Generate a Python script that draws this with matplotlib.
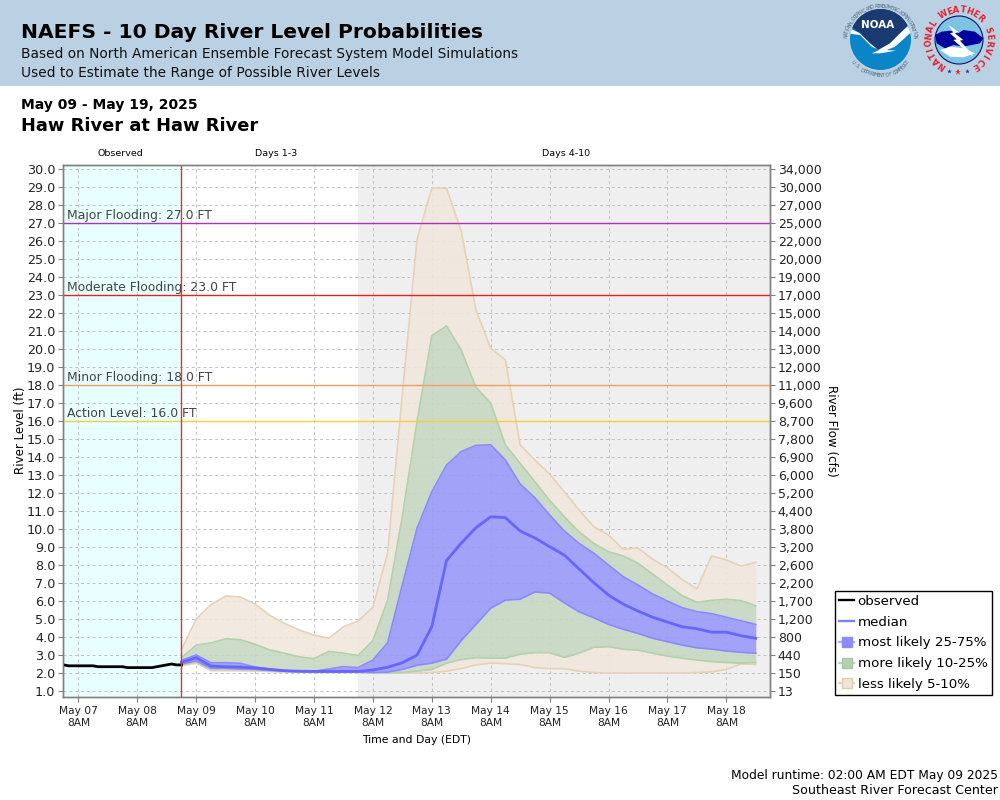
#!/usr/bin/env python3
"""
NAEFS 10 day river level probabilities, Haw River at Haw River.
"""

import numpy as np
import pandas as pd
import matplotlib
matplotlib.use("Agg")
import matplotlib.pyplot as plt
from matplotlib.lines import Line2D
from matplotlib.patches import Circle, Polygon, Rectangle


# observed stage, 2 hourly from May 07 02:00
observed = [2.45, 2.40, 2.40, 2.40, 2.40, 2.40, 2.40, 2.35, 2.35, 2.35, 2.35, 2.35, 2.35,
            2.30, 2.30, 2.30, 2.30, 2.30, 2.30, 2.35, 2.40, 2.45, 2.50, 2.45, 2.45]

# forecast percentiles, 6 hourly from May 09 02:00
q95 = [3.30, 5.00, 5.80, 6.28, 6.22, 5.83, 5.20, 4.75, 4.39, 4.11,
       3.93, 4.57, 4.89, 5.65, 8.67, 17.5, 26.1, 28.94, 28.93, 26.55,
       22.17, 20.04, 19.39, 14.67, 13.83, 13.05, 12.07, 11.06, 10.13, 9.67,
       8.87, 8.94, 8.32, 7.83, 7.20, 6.67, 8.50, 8.28, 7.94, 8.15]
q90 = [2.85, 3.55, 3.67, 3.90, 3.85, 3.60, 3.28, 3.10, 2.90, 2.80,
       3.20, 3.10, 2.97, 3.80, 6.05, 10.7, 16.0, 20.74, 21.28, 19.94,
       17.87, 17.00, 14.67, 13.65, 12.63, 11.60, 10.68, 9.85, 9.20, 8.74,
       8.50, 8.10, 7.50, 6.89, 6.30, 5.93, 6.04, 6.10, 6.02, 5.74]
q75 = [2.70, 3.00, 2.57, 2.57, 2.54, 2.33, 2.22, 2.13, 2.10, 2.10,
       2.22, 2.35, 2.30, 2.72, 3.68, 6.90, 10.05, 12.07, 13.55, 14.30,
       14.65, 14.68, 13.83, 12.50, 11.74, 10.78, 9.89, 9.20, 8.66, 8.00,
       7.35, 6.89, 6.39, 6.00, 5.63, 5.41, 5.30, 5.10, 4.90, 4.70]
median = [2.60, 2.85, 2.39, 2.35, 2.33, 2.28, 2.20, 2.13, 2.10, 2.09,
          2.09, 2.09, 2.09, 2.17, 2.32, 2.57, 3.00, 4.57, 8.25, 9.22,
          10.07, 10.68, 10.63, 9.89, 9.50, 9.02, 8.55, 7.78, 7.02, 6.33,
          5.83, 5.44, 5.10, 4.83, 4.57, 4.46, 4.27, 4.27, 4.07, 3.93]
q25 = [2.50, 2.67, 2.27, 2.27, 2.22, 2.20, 2.15, 2.10, 2.08, 2.06,
       2.06, 2.06, 2.05, 2.03, 2.05, 2.20, 2.43, 2.55, 2.77, 3.80,
       4.70, 5.60, 6.05, 6.10, 6.50, 6.44, 5.90, 5.40, 5.07, 4.70,
       4.43, 4.20, 3.93, 3.74, 3.55, 3.40, 3.33, 3.22, 3.15, 3.10]
q10 = [2.45, 2.62, 2.20, 2.20, 2.20, 2.18, 2.12, 2.08, 2.05, 2.05,
       2.05, 2.05, 2.05, 2.02, 2.02, 2.03, 2.10, 2.20, 2.55, 2.75,
       2.85, 2.83, 2.83, 3.05, 3.13, 3.13, 2.87, 3.10, 3.43, 3.46,
       3.32, 3.27, 3.10, 2.94, 2.82, 2.72, 2.63, 2.58, 2.55, 2.58]
q05 = [2.40, 2.55, 2.13, 2.13, 2.12, 2.10, 2.08, 2.05, 2.04, 2.03,
       2.03, 2.03, 2.03, 2.00, 2.00, 2.00, 2.00, 2.03, 2.10, 2.25,
       2.45, 2.55, 2.52, 2.47, 2.30, 2.24, 2.24, 2.10, 2.03, 2.00,
       2.00, 2.00, 2.00, 2.00, 2.00, 2.03, 2.06, 2.20, 2.50, 2.48]

stage_ticks = [float(v) for v in range(1, 31)]
flow_labels = ["13", "150", "440", "800", "1,200", "1,700", "2,200", "2,600", "3,200", "3,800",
               "4,400", "5,200", "6,000", "6,900", "7,800", "8,700", "9,600", "11,000", "12,000",
               "13,000", "14,000", "15,000", "17,000", "19,000", "20,000", "22,000", "25,000",
               "27,000", "30,000", "34,000"]
tick_days = ["May 07", "May 08", "May 09", "May 10", "May 11", "May 12",
             "May 13", "May 14", "May 15", "May 16", "May 17", "May 18"]

flood_levels = [27.0, 23.0, 18.0, 16.0]
flood_names = ["Major Flooding: 27.0 FT", "Moderate Flooding: 23.0 FT",
               "Minor Flooding: 18.0 FT", "Action Level: 16.0 FT"]
flood_colors = ["#b030b8", "#e82020", "#f0a05c", "#f2d038"]

BLUE_FILL = "#9898fa"
GREEN_FILL = "#c6d8c2"
TAN_FILL = "#f1e8dc"
BLUE_EDGE = "#8a8aff"
GREEN_EDGE = "#b4d0ac"
TAN_EDGE = "#e6d2b8"
GRID = "#c0c0c0"
FRAME = "#808080"


def arc_text(bg, text, cx, cy, r, start, end, flip=False, **kw):
    """Put text letter by letter on a circle, angles in degrees (math sense, y up)."""
    for ch, a in zip(text, np.linspace(start, end, len(text))):
        rad = np.radians(a)
        rot = a + 90 if flip else a - 90
        bg.text(cx + r * np.cos(rad), cy - r * np.sin(rad), ch, rotation=rot,
                rotation_mode="anchor", ha="center", va="center", **kw)


def crop_pts(pts, x0):
    return [(x / 3 + x0, y / 3) for x, y in pts]


def draw_header(bg):
    bg.add_patch(Rectangle((0, 0), 1000, 86, color="#bad1e4", lw=0))
    bg.text(21, 33, "NAEFS - 10 Day River Level Probabilities", fontsize=14.6,
            fontweight="bold", va="center", color="#000000")
    bg.text(21, 54, "Based on North American Ensemble Forecast System Model Simulations",
            fontsize=9.9, va="center", color="#111111")
    bg.text(21, 73, "Used to Estimate the Range of Possible River Levels",
            fontsize=9.9, va="center", color="#111111")

    # NOAA logo
    cx, cy = 880.5, 39.5
    disc = Circle((cx, cy), 30.5, color="#0a86c8", lw=0)
    bg.add_patch(disc)
    dark = [(0, 60), (30, 78), (60, 100), (90, 130), (115, 150), (150, 130), (180, 100),
            (207, 72), (240, 60), (240, 0), (0, 0)]
    navy = Polygon(crop_pts(dark, 840), closed=True, color="#1b3a72", lw=0)
    bg.add_patch(navy)
    navy.set_clip_path(disc)
    wing = [(20, 80), (60, 100), (90, 130), (115, 150), (150, 130), (180, 100), (215, 68),
            (218, 92), (190, 118), (165, 140), (140, 150), (168, 152), (120, 160), (95, 160),
            (118, 150), (95, 140), (60, 105), (20, 100)]
    gull = Polygon(crop_pts(wing, 840), closed=True, color="white", lw=0)
    bg.add_patch(gull)
    gull.set_clip_path(disc)
    bg.text(878, 25, "NOAA", color="white", fontsize=7.5, fontweight="bold", ha="center", va="center")
    arc_text(bg, "NATIONAL OCEANIC AND ATMOSPHERIC ADMINISTRATION", 880.5, 41, 34.5, 172, 8,
             fontsize=3.4, color="#51677f")
    arc_text(bg, "U.S. DEPARTMENT OF COMMERCE", 880.5, 41, 34.5, 218, 322, flip=True,
             fontsize=3.4, color="#51677f")

    # NWS logo
    cx, cy = 959, 40
    seal = Circle((cx, cy), 24, facecolor="#7cc4e2", edgecolor="#10106a", lw=0.8)
    bg.add_patch(seal)
    cloud = [(45, 105), (65, 95), (90, 92), (115, 100), (130, 90), (165, 95), (190, 115),
             (180, 130), (155, 135), (130, 140), (100, 135), (75, 145), (50, 130)]
    puff = [(60, 150), (90, 140), (130, 145), (165, 160), (130, 172), (90, 170)]
    bolt = [(85, 75), (115, 95), (105, 100), (130, 120), (120, 122), (150, 155), (160, 170),
            (135, 150), (100, 120), (110, 118), (90, 100), (100, 97)]
    bg.add_patch(Polygon(crop_pts(puff, 920), closed=True, color="white", lw=0))
    bg.add_patch(Polygon(crop_pts(cloud, 920), closed=True, color="#00009c", lw=0))
    bg.add_patch(Polygon(crop_pts(bolt, 920), closed=True, color="white", lw=0))
    arc_text(bg, "NATIONAL WEATHER SERVICE", cx, cy, 30, 236, -58, fontsize=6,
             fontweight="bold", color="#e4222c")
    for x, y, size, color in zip([949, 958, 967], [71, 72, 71], [3.5, 5, 3.5],
                                 ["#1b3a9c", "#e4222c", "#1b3a9c"]):
        bg.plot([x], [y], marker="*", ms=size, color=color, mew=0)


def main():
    fig = plt.figure(figsize=(10, 8), dpi=100)

    # pixel coordinate layer for the banner and free text
    bg = fig.add_axes([0, 0, 1, 1], zorder=0)
    bg.set_xlim(0, 1000)
    bg.set_ylim(800, 0)
    bg.axis("off")
    draw_header(bg)

    bg.text(21, 105.5, "May 09 - May 19, 2025", fontsize=10, fontweight="bold", va="center")
    bg.text(21, 126, "Haw River at Haw River", fontsize=12.9, fontweight="bold", va="center")
    bg.text(120, 154, "Observed", fontsize=6.8, ha="center", va="center")
    bg.text(276, 154, "Days 1-3", fontsize=6.8, ha="center", va="center")
    bg.text(566, 154, "Days 4-10", fontsize=6.8, ha="center", va="center")
    bg.text(998, 775, "Model runtime: 02:00 AM EDT May 09 2025", fontsize=8.8, ha="right", va="center")
    bg.text(998, 791, "Southeast River Forecast Center", fontsize=9.05, ha="right", va="center")

    ax = fig.add_axes([0.063, 1 - 697 / 800, 0.707, (697 - 164.5) / 800], zorder=1)

    obs_times = pd.date_range("2025-05-07 02:00", periods=len(observed), freq="2h")
    fc_times = pd.date_range("2025-05-09 02:00", periods=len(median), freq="6h")
    tick_times = pd.date_range("2025-05-07 08:00", periods=len(tick_days), freq="1D")
    left = pd.Timestamp("2025-05-07 01:44")
    right = pd.Timestamp("2025-05-19 01:48")
    run_time = fc_times[0]

    ax.axvspan(left, run_time, color="#e8ffff", lw=0, zorder=0)
    ax.axvspan(pd.Timestamp("2025-05-12 02:00"), right, color="#efefef", lw=0, zorder=0)

    ax.set_xlim(left, right)
    ax.set_ylim(0.667, 30.25)
    ax.set_yticks(stage_ticks)
    ax.set_yticklabels([f"{v:.1f}" for v in stage_ticks])
    ax.set_xticks(tick_times)
    ax.set_xticklabels([f"{d}\n8AM" for d in tick_days])
    ax.grid(True, color=GRID, linestyle=(0, (3, 3)), linewidth=0.7, zorder=1)
    ax.set_axisbelow(True)

    bands = [(q90, q95, TAN_FILL), (q05, q10, TAN_FILL),
             (q75, q90, GREEN_FILL), (q10, q25, GREEN_FILL),
             (q25, q75, BLUE_FILL)]
    for lo, hi, color in bands:
        ax.fill_between(fc_times, lo, hi, color=color, alpha=0.88, lw=0, zorder=2)
    edges = [(q95, TAN_EDGE), (q05, TAN_EDGE), (q90, GREEN_EDGE), (q10, GREEN_EDGE),
             (q75, BLUE_EDGE), (q25, BLUE_EDGE)]
    for vals, color in edges:
        ax.plot(fc_times, vals, color=color, lw=1.2, zorder=3)

    ax.plot(fc_times, median, color="#6666ff", lw=2.0, zorder=4)
    ax.plot(obs_times, observed, color="black", lw=2.0, zorder=4)

    for level, name, color in zip(flood_levels, flood_names, flood_colors):
        ax.axhline(level, color=color, lw=1.0, zorder=5)
        ax.annotate(name, xy=(left, level), xytext=(3, 1), textcoords="offset points",
                    fontsize=8.9, color="#444444", va="bottom", ha="left", zorder=6)
    ax.axvline(run_time, color="#e83030", lw=1.0, zorder=6)

    ax.set_ylabel("River Level (ft)", fontsize=8.6, labelpad=0)
    ax.set_xlabel("Time and Day (EDT)", fontsize=7.8, labelpad=5)
    ax.tick_params(axis="y", labelsize=9.2, length=3.5, color=FRAME, pad=2, labelcolor="#222222")
    ax.tick_params(axis="x", labelsize=7.7, length=3.5, color=FRAME, pad=3, labelcolor="#222222")

    ax2 = ax.twinx()
    ax2.set_ylim(ax.get_ylim())
    ax2.set_yticks(stage_ticks)
    ax2.set_yticklabels(flow_labels)
    ax2.tick_params(axis="y", labelsize=9.0, length=3.5, color=FRAME, pad=2, labelcolor="#222222")
    ax2.set_ylabel("River Flow (cfs)", fontsize=8.6, rotation=-90, labelpad=12)

    for a in (ax, ax2):
        for spine in a.spines.values():
            spine.set_color(FRAME)
            spine.set_linewidth(1.0)

    handles = [
        Line2D([0], [0], color="black", lw=1.7, label="observed"),
        Line2D([0], [0], color="#8080ff", lw=1.7, label="median"),
        Line2D([0], [0], color="#b0b0ff", lw=1.7, marker="s", ms=6.5, mfc="#8c8cf8", mec="#8c8cf8",
               label="most likely 25-75%"),
        Line2D([0], [0], color="#bcd8bc", lw=1.7, marker="s", ms=6.5, mfc="#b4d0b0", mec="#a8c8a8",
               label="more likely 10-25%"),
        Line2D([0], [0], color="#e6d2b8", lw=1.7, marker="s", ms=6.5, mfc="#efe6da", mec="#e0ccb0",
               label="less likely 5-10%"),
    ]
    fig.legend(handles=handles, loc="upper left", bbox_to_anchor=(0.835, 1 - 591 / 800),
               borderaxespad=0, fontsize=9.6, frameon=True, fancybox=False, edgecolor="black",
               framealpha=1, handlelength=1.15, handletextpad=0.25, borderpad=0.3, labelspacing=0.58)

    fig.savefig("out.png", dpi=100)
    plt.close(fig)


if __name__ == "__main__":
    main()
